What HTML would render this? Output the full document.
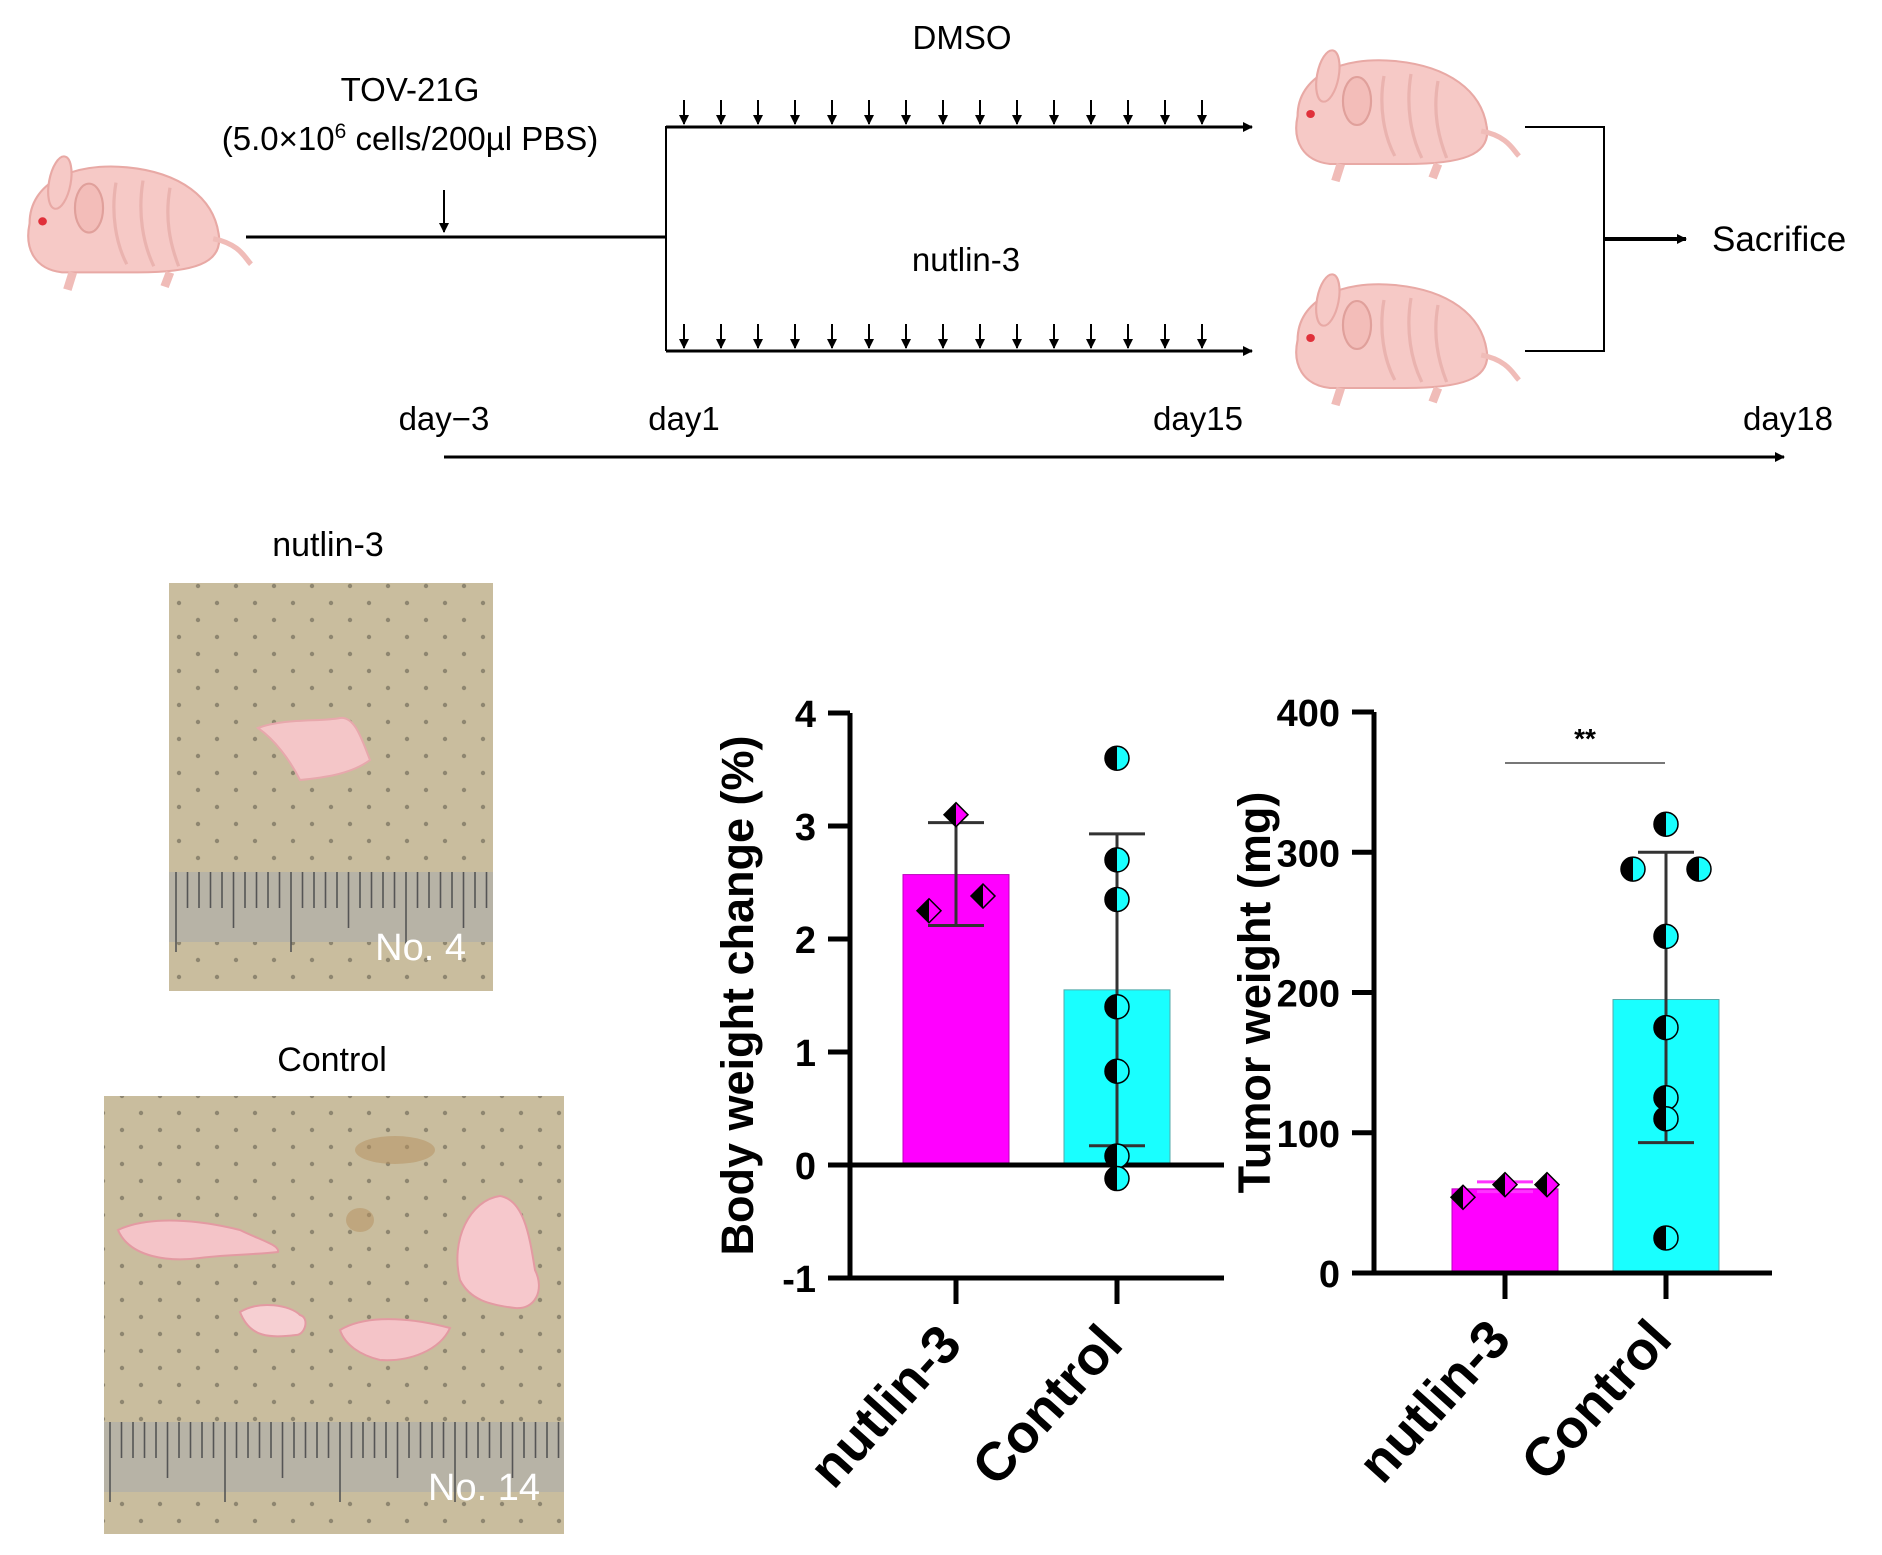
<!DOCTYPE html>
<html><head><meta charset="utf-8"><style>
html,body{margin:0;padding:0;background:#fff;}
svg{display:block;font-family:"Liberation Sans",Arial,sans-serif;}
</style></head><body>
<svg id="fig" width="1882" height="1555" viewBox="0 0 1882 1555" xmlns="http://www.w3.org/2000/svg">
<defs>
<pattern id="dots" width="38" height="34" patternUnits="userSpaceOnUse"><rect width="38" height="34" fill="#c9bd9e"/><circle cx="8" cy="8" r="2.2" fill="#8e8670"/><circle cx="27" cy="25" r="2.2" fill="#8e8670"/></pattern>
<marker id="ah" markerWidth="10" markerHeight="10" refX="9" refY="5" orient="auto" markerUnits="userSpaceOnUse"><path d="M0,0 L10,5 L0,10 z" fill="#000"/></marker>
<g id="mouse">
<path d="M20,70 C20,30 60,10 110,15 C160,20 190,45 195,80 C200,110 170,118 120,118 L50,118 C25,115 15,95 20,70 z" fill="#f6c9c6" stroke="#e8a9a5" stroke-width="2"/>
<ellipse cx="48" cy="30" rx="10" ry="26" fill="#f6c9c6" stroke="#e8a9a5" stroke-width="2" transform="rotate(10 48 30)"/>
<ellipse cx="75" cy="55" rx="13" ry="24" fill="#f3bdb9" stroke="#e0a09b" stroke-width="2"/>
<circle cx="32" cy="68" r="4" fill="#e0303a"/>
<path d="M190,85 C215,90 220,105 225,110" fill="none" stroke="#f0bcb8" stroke-width="5"/>
<path d="M60,118 L55,135 M150,118 L145,132" stroke="#f0bcb8" stroke-width="8"/>
<path d="M100,30 C95,60 100,90 110,110 M125,28 C120,60 125,90 135,112 M150,35 C145,65 150,90 158,112" fill="none" stroke="#eab3af" stroke-width="3"/>
</g>
</defs>

<g>
<use href="#mouse" transform="translate(8,152) scale(1.08,1.02)"/>
<line x1="246" y1="237" x2="666" y2="237" stroke="#000" stroke-width="3"/>
<line x1="444" y1="190" x2="444" y2="232" stroke="#000" stroke-width="2" marker-end="url(#ah)"/>
<text x="410" y="101" font-size="33" text-anchor="middle">TOV-21G</text>
<text x="410" y="150" font-size="33" text-anchor="middle">(5.0×10<tspan font-size="21" dy="-12">6</tspan><tspan dy="12"> cells/200µl PBS)</tspan></text>
<line x1="666" y1="126" x2="666" y2="351" stroke="#000" stroke-width="2"/>
<line x1="666" y1="127" x2="1252" y2="127" stroke="#000" stroke-width="3" marker-end="url(#ah)"/>
<line x1="666" y1="351" x2="1252" y2="351" stroke="#000" stroke-width="3" marker-end="url(#ah)"/>
<text x="962" y="49" font-size="33" text-anchor="middle">DMSO</text>
<text x="966" y="271" font-size="33" text-anchor="middle">nutlin-3</text>
<g id="doseArrows"></g>
<use href="#mouse" transform="translate(1276,46) scale(1.08,1.0)"/>
<use href="#mouse" transform="translate(1276,270) scale(1.08,1.0)"/>
<path d="M1525,127 L1604,127 L1604,351 L1525,351" fill="none" stroke="#000" stroke-width="2"/>
<line x1="1604" y1="239" x2="1686" y2="239" stroke="#000" stroke-width="4" marker-end="url(#ah)"/>
<text x="1712" y="251" font-size="35">Sacrifice</text>
<text x="444" y="430" font-size="33" text-anchor="middle">day−3</text>
<text x="684" y="430" font-size="33" text-anchor="middle">day1</text>
<text x="1198" y="430" font-size="33" text-anchor="middle">day15</text>
<text x="1788" y="430" font-size="33" text-anchor="middle">day18</text>
<line x1="444" y1="457" x2="1784" y2="457" stroke="#000" stroke-width="3" marker-end="url(#ah)"/>
</g>

<g>
<text x="328" y="556" font-size="34" text-anchor="middle">nutlin-3</text>
<rect x="169" y="583" width="324" height="408" fill="url(#dots)"/>
<rect x="169" y="872" width="324" height="70" fill="#b7b3a6"/>
<g id="ruler1"></g>
<path d="M258,728 C285,718 320,722 340,718 C355,716 362,740 370,760 C350,775 320,778 300,780 C290,760 275,740 258,728 z" fill="#f4c6c8" stroke="#e7a8ac" stroke-width="2"/>
<text x="466" y="960" font-size="38" fill="#fff" text-anchor="end">No. 4</text>
</g>
<g>
<text x="332" y="1071" font-size="34" text-anchor="middle">Control</text>
<rect x="104" y="1096" width="460" height="438" fill="url(#dots)"/>
<ellipse cx="395" cy="1150" rx="40" ry="14" fill="#b58f5d" opacity="0.5"/>
<ellipse cx="360" cy="1220" rx="14" ry="12" fill="#b58f5d" opacity="0.5"/>
<rect x="104" y="1422" width="460" height="70" fill="#b7b3a6"/>
<g id="ruler2"></g>
<path d="M118,1230 C150,1215 200,1220 240,1230 C260,1240 280,1245 278,1252 C250,1255 220,1255 200,1258 C170,1262 130,1258 118,1230 z" fill="#f4c4c8" stroke="#e39aa2" stroke-width="2"/>
<path d="M240,1312 C260,1300 290,1305 300,1315 C310,1318 305,1335 296,1335 C270,1338 250,1338 240,1312 z" fill="#f6cfd2" stroke="#e39aa2" stroke-width="2"/>
<path d="M340,1330 C370,1312 420,1320 450,1328 C440,1350 410,1362 380,1360 C360,1355 345,1345 340,1330 z" fill="#f4c4c8" stroke="#e39aa2" stroke-width="2"/>
<path d="M460,1280 C450,1240 470,1200 500,1196 C525,1200 530,1240 535,1270 C545,1290 535,1310 515,1308 C490,1305 470,1300 460,1280 z" fill="#f6c8cc" stroke="#e39aa2" stroke-width="2"/>
<text x="540" y="1500" font-size="38" fill="#fff" text-anchor="end">No. 14</text>
</g>

<g id="chart1"></g>
<g id="chart2"></g>
</svg>
<script>
const NS="http://www.w3.org/2000/svg";
function mk(parent,tag,attrs){const e=document.createElementNS(NS,tag);for(const k in attrs)e.setAttribute(k,attrs[k]);parent.appendChild(e);return e;}

const doseDays=[1,2,3,4,5,6,7,8,9,10,11,12,13,14,15];
const da=document.getElementById('doseArrows');
doseDays.forEach((d,i)=>{
  const x=684+(d-1)*37;
  [[100,124],[324,348]].forEach(([y1,y2])=>{
    const l=mk(da,'line',{x1:x,y1:y1,x2:x,y2:y2,stroke:'#000','stroke-width':2,'marker-end':'url(#ah)'});
    
    
  });
});
function ruler(g,x0,x1,yTop,yBot){
  const el=document.getElementById(g);
  for(let x=x0,i=0;x<x1;x+=11.5,i++){
    mk(el,'line',{x1:x,y1:yTop,x2:x,y2:yTop+(i%10==0?yBot:(i%5==0?yBot*0.7:yBot*0.45)),stroke:'#555','stroke-width':1.6});
  }
}
ruler('ruler1',176,493,872,80);ruler('ruler2',110,564,1422,80);

const categories=["nutlin-3","Control"];
const bwMeans=[2.57,1.55];
const bwLow=[2.12,0.17];
const bwHigh=[3.03,2.93];
const bwNutlinPts=[2.25,3.1,2.38];
const bwControlPts=[3.6,2.7,2.35,1.4,0.83,0.08,-0.12];
const bwTicks=[-1,0,1,2,3,4];
const twMeans=[60,195];
const twLow=[58,93];
const twHigh=[65,300];
const twNutlinPts=[54,63,63];
const twControlPts=[320,288,288,240,175,125,110,25];
const twTicks=[0,100,200,300,400];

function drawChart(id,o){
  const g=document.getElementById(id);
  const y=v=>o.y0-(v-o.vmin)/(o.vmax-o.vmin)*(o.y0-o.y1);
  const colors=['#ff00ff','#19ffff'];
  categories.forEach((c,i)=>{
    const cx=o.cx[i],base=y(o.base);
    const b=mk(g,'rect',{x:cx-o.bw/2,y:Math.min(y(o.means[i]),base),width:o.bw,height:Math.abs(base-y(o.means[i])),fill:colors[i],stroke:i?'#5aa':'#b0b','stroke-width':1});
    
    
  });
  const ya=mk(g,'line',{x1:o.ax,y1:y(o.vmax),x2:o.ax,y2:y(o.vmin)+2,stroke:'#000','stroke-width':5});
  
  const xa=mk(g,'line',{x1:o.ax-22,y1:y(o.vmin),x2:o.xend,y2:y(o.vmin),stroke:'#000','stroke-width':5});
  
  if(o.vmin<0){const z=mk(g,'line',{x1:o.ax-22,y1:y(0),x2:o.xend,y2:y(0),stroke:'#000','stroke-width':5});
    }
  o.ticks.forEach(t=>{
    mk(g,'line',{x1:o.ax-22,y1:y(t),x2:o.ax,y2:y(t),stroke:'#000','stroke-width':5});
    const tl=mk(g,'text',{x:o.ax-34,y:y(t)+14,'font-size':38,'font-weight':'bold','text-anchor':'end'});
    tl.textContent=t;
    
  });
  const pts=[o.pN,o.pC];
  categories.forEach((c,i)=>{
    const cx=o.cx[i];
    const ec=i==0&&o.pinkErr?'#ff33ff':'#333';
    mk(g,'line',{x1:cx,y1:y(o.lo[i]),x2:cx,y2:y(o.hi[i]),stroke:ec,'stroke-width':3});
    [o.lo[i],o.hi[i]].forEach(v=>mk(g,'line',{x1:cx-28,y1:y(v),x2:cx+28,y2:y(v),stroke:ec,'stroke-width':3}));
    pts[i].forEach((v,j)=>{
      let dx=0;
      if(i==0) dx=(j-1)*o.spreadN; else dx=o.offC[j]||0;
      const px=cx+dx,py=y(v);
      const grp=mk(g,'g',{});
      
      
      if(i==0){
        mk(grp,'path',{d:`M${px},${py-12} L${px+12},${py} L${px},${py+12} L${px-12},${py} z`,fill:'#ff00ff',stroke:'#000','stroke-width':1.5});
        mk(grp,'path',{d:`M${px},${py-12} L${px-12},${py} L${px},${py+12} z`,fill:'#000'});
      } else {
        mk(grp,'path',{d:`M${px},${py-12} A12,12 0 0 1 ${px},${py+12} z`,fill:'#19ffff'});
        mk(grp,'path',{d:`M${px},${py-12} A12,12 0 0 0 ${px},${py+12} z`,fill:'#000'});
        mk(grp,'circle',{cx:px,cy:py,r:12,fill:'none',stroke:'#000','stroke-width':1.5});
      }
    });
    mk(g,'line',{x1:cx,y1:y(o.vmin),x2:cx,y2:y(o.vmin)+26,stroke:'#000','stroke-width':5});
    const lx=cx+8,ly=y(o.vmin)+68;
    const lbl=mk(g,'text',{x:lx,y:ly,'font-size':54,'font-weight':'bold','text-anchor':'end',transform:`rotate(-48 ${lx} ${ly})`});
    lbl.textContent=c;
    
  });
  const t=mk(g,'text',{x:o.tx,y:(y(o.vmax)+y(o.vmin))/2,'font-size':45,'font-weight':'bold','text-anchor':'middle',transform:`rotate(-90 ${o.tx} ${(y(o.vmax)+y(o.vmin))/2})`});
  t.textContent=o.title;
  
  return y;
}
drawChart('chart1',{vmin:-1,vmax:4,y0:1278,y1:713,ax:850,xend:1224,cx:[956,1117],bw:106,base:0,means:bwMeans,lo:bwLow,hi:bwHigh,pN:bwNutlinPts,pC:bwControlPts,ticks:bwTicks,spreadN:27,offC:[],title:"Body weight change  (%)",tx:753});
const y2=drawChart('chart2',{vmin:0,vmax:400,y0:1273,y1:712,ax:1374,xend:1772,cx:[1505,1666],bw:106,base:0,means:twMeans,lo:twLow,hi:twHigh,pN:twNutlinPts,pC:twControlPts,ticks:twTicks,spreadN:42,offC:[0,-33,33,0,0,0,0,0],title:"Tumor weight (mg)",tx:1270,pinkErr:true});
const c2=document.getElementById('chart2');
const sl=mk(c2,'line',{x1:1505,y1:763,x2:1665,y2:763,stroke:'#777','stroke-width':2});

const st=mk(c2,'text',{x:1585,y:748,'font-size':28,'font-weight':'bold','text-anchor':'middle'});
st.textContent='**';

</script>
</body></html>
